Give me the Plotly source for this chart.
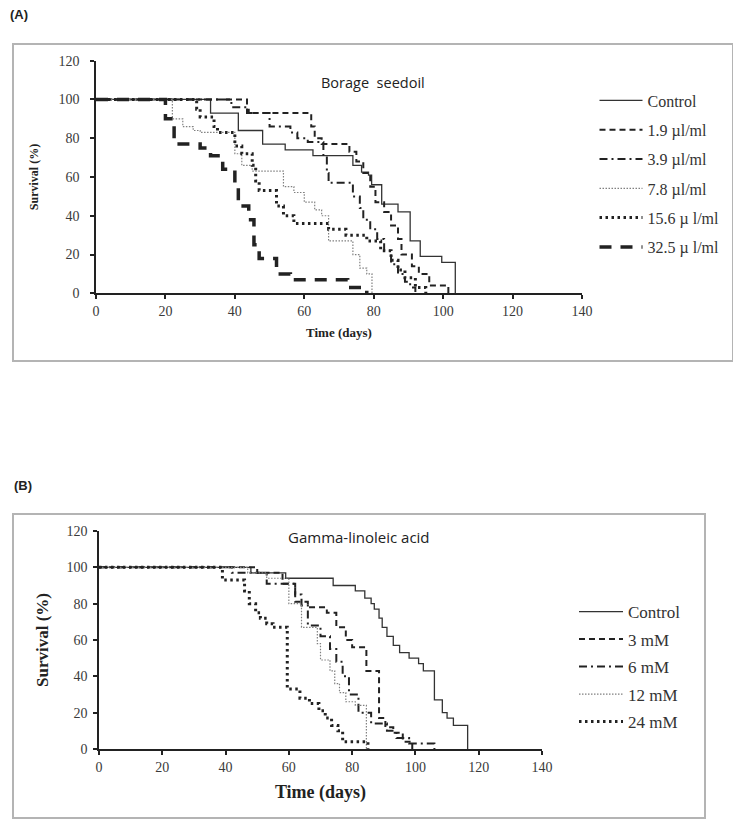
import plotly.graph_objects as go

# page is drawn with the browser's default 8px body margin, so the figure is
# sized to the remaining visible area and positions are measured from it
OFF = 8
W, H = 741 - OFF, 824 - OFF

# ---------------- Panel A: Borage seed oil ----------------
a_names = ["Control", "1.9 µl/ml", "3.9 µl/ml", "7.8 µl/ml", "15.6 µ l/ml", "32.5 µ l/ml"]
a_ctrl_t = [0, 33, 41, 48, 54.5, 62.5, 74, 76.5, 78.5, 79.4, 82.3, 87, 90.5, 93.4, 99.6, 103.5]
a_ctrl_s = [100, 93, 84, 77, 74, 71, 66, 62.5, 61, 56, 46, 42, 27, 19, 16, 0]
a_19_t = [0, 43.5, 62, 63, 65, 73, 75, 77, 79, 80.5, 83, 85, 87, 88, 91, 93, 96, 101.5]
a_19_s = [100, 93, 86, 80, 77, 73, 68, 62, 55, 47, 42, 35, 28, 20, 14, 10, 4, 0]
a_39_t = [0, 39, 44, 50, 56, 58, 61, 65.5, 66.5, 67, 74, 76, 77, 79, 81, 83, 85, 87, 89, 90.5, 92]
a_39_s = [100, 96, 93, 86, 83, 80, 78, 70, 62, 57, 50, 44, 38, 33, 28, 22, 15, 10, 6, 3, 0]
a_78_t = [0, 22, 25, 28, 30, 40, 42, 45, 54, 57, 60, 63, 65, 67, 74, 76, 78, 79.5]
a_78_s = [100, 90, 86, 84, 83, 72, 66, 63, 55, 52, 47, 43, 40, 27, 20, 13, 10, 0]
a_156_t = [0, 29, 30, 34, 35, 40, 42, 45, 46, 47, 52, 54, 57, 67, 72, 78, 82, 85, 87, 89, 92, 95]
a_156_s = [100, 95, 91, 86, 83, 76, 72, 66, 58, 53, 45, 40, 36, 33, 30, 27, 22, 17, 12, 8, 3, 0]
a_325_t = [0, 20, 22.5, 30, 33, 36.5, 40, 41, 44, 45.5, 47, 52, 56, 72.5, 78]
a_325_s = [100, 90, 77, 75, 71, 64, 55, 45, 38, 25, 18, 10, 7, 3, 0]

# ---------------- Panel B: Gamma-linoleic acid ----------------
b_names = ["Control", "3 mM", "6 mM", "12 mM", "24 mM"]
b_ctrl_t = [0, 48, 59, 74, 81, 84, 86, 87, 88.5, 89.5, 91, 93, 95, 98, 101, 102.5, 106, 108.5, 110, 112, 116.5]
b_ctrl_s = [100, 97, 94, 90, 87, 83, 80, 77, 72, 67, 62, 57, 53, 50, 47, 43, 27, 20, 17, 13, 0]
b_3_t = [0, 50, 58, 62, 66, 72, 75, 78, 80, 84.5, 88.5, 90.5, 93, 96, 99]
b_3_s = [100, 97, 91, 81, 78, 75, 67, 60, 56, 43, 17, 12, 9, 4, 0]
b_6_t = [0, 42, 53, 62, 64, 66, 70, 73, 75, 77, 79, 82, 86, 91, 94, 98, 106]
b_6_s = [100, 97, 91, 85, 79, 68, 62, 55, 48, 40, 30, 20, 14, 10, 6, 3, 0]
b_12_t = [0, 47, 53, 60, 64, 69, 70, 73, 74.5, 76, 78, 81, 84.5]
b_12_s = [100, 97, 94, 80, 67, 58, 49, 43, 36, 31, 26, 24, 0]
b_24_t = [0, 39, 46, 47.5, 49.5, 51, 53, 55, 59.5, 63.5, 66.5, 69.5, 71.5, 73.5, 75.5, 77, 85]
b_24_s = [100, 93, 87, 80, 75, 72, 69, 67, 33, 28, 25, 21, 17, 13, 10, 4, 0]

x_ticks = [0, 20, 40, 60, 80, 100, 120, 140]
y_ticks = [0, 20, 40, 60, 80, 100, 120]

BLK = "#222222"
GRY = "#808080"
styles = [
    dict(color="#333333", width=1.3, dash="solid"),
    dict(color=BLK, width=2, dash="6px,4px"),
    dict(color=BLK, width=2, dash="8px,4px,2px,4px"),
    dict(color=GRY, width=1.2, dash="1.5px,1.5px"),
    dict(color=BLK, width=3, dash="2.5px,3.5px"),
    dict(color=BLK, width=3.5, dash="12px,9px"),
]

def px_x(p):
    return (p - OFF) / W

def px_y(p):
    return 1 - (p - OFF) / H

fig = go.Figure()

a_data = [(a_ctrl_t, a_ctrl_s), (a_19_t, a_19_s), (a_39_t, a_39_s),
          (a_78_t, a_78_s), (a_156_t, a_156_s), (a_325_t, a_325_s)]
for i, (name, (t, s)) in enumerate(zip(a_names, a_data)):
    fig.add_trace(go.Scatter(x=t, y=s, name=name, mode="lines", line=dict(shape="hv", **styles[i]),
                             xaxis="x", yaxis="y", legend="legend", legendgroup="a%d" % i))

b_data = [(b_ctrl_t, b_ctrl_s), (b_3_t, b_3_s), (b_6_t, b_6_s), (b_12_t, b_12_s), (b_24_t, b_24_s)]
for i, (name, (t, s)) in enumerate(zip(b_names, b_data)):
    fig.add_trace(go.Scatter(x=t, y=s, name=name, mode="lines", line=dict(shape="hv", **styles[i]),
                             xaxis="x2", yaxis="y2", legend="legend2", legendgroup="b%d" % i))

serif = "Liberation Serif"
axis_common = dict(showline=True, linecolor=BLK, linewidth=1.5, ticks="outside", ticklen=4,
                   tickcolor=BLK, tickwidth=1.5, showgrid=False, zeroline=False, automargin=False,
                   tickfont=dict(family=serif, size=14, color="#3a3a3a"))

fig.update_layout(
    width=W, height=H, margin=dict(l=0, r=0, t=0, b=0, autoexpand=False),
    paper_bgcolor="white", plot_bgcolor="white",
    xaxis=dict(domain=[px_x(96), px_x(582)], range=[0, 140], tickvals=x_ticks, anchor="y",
               title=dict(text="<b>Time (days)</b>", font=dict(family=serif, size=13, color=BLK), standoff=10),
               **axis_common),
    yaxis=dict(domain=[px_y(293.3), px_y(60.7)], range=[0, 120], tickvals=y_ticks, anchor="x",
               ticklabelstandoff=8,
               title=dict(text="<b>Survival (%)</b>", font=dict(family=serif, size=12, color=BLK), standoff=17),
               **axis_common),
    xaxis2=dict(domain=[px_x(99), px_x(542)], range=[0, 140], tickvals=x_ticks, anchor="y2",
                title=dict(text="<b>Time (days)</b>", font=dict(family=serif, size=18, color=BLK), standoff=12),
                **axis_common),
    yaxis2=dict(domain=[px_y(749), px_y(531)], range=[0, 120], tickvals=y_ticks, anchor="x2",
                ticklabelstandoff=3,
                title=dict(text="<b>Survival (%)</b>", font=dict(family=serif, size=17, color=BLK), standoff=14),
                **axis_common),
    legend=dict(x=px_x(594.5), y=px_y(83.5), xanchor="left", yanchor="top", bgcolor="rgba(0,0,0,0)",
                font=dict(family=serif, size=16, color="#333333"), tracegroupgap=5.5, itemwidth=43),
    legend2=dict(x=px_x(574), y=px_y(594), xanchor="left", yanchor="top", bgcolor="rgba(0,0,0,0)",
                 font=dict(family=serif, size=17, color="#333333"), tracegroupgap=2.4, itemwidth=44),
    showlegend=True,
)

fig.add_shape(type="rect", xref="paper", yref="paper", x0=px_x(13), x1=px_x(733), y0=px_y(361), y1=px_y(44),
              line=dict(color="#b4b4b4", width=2), layer="below")
fig.add_shape(type="rect", xref="paper", yref="paper", x0=px_x(13), x1=px_x(705), y0=px_y(818), y1=px_y(514),
              line=dict(color="#b4b4b4", width=2), layer="below")

fig.add_annotation(text="<b>(A)</b>", x=px_x(8), y=px_y(15), xref="paper", yref="paper", xanchor="left",
                   yanchor="middle", showarrow=False, font=dict(family="Liberation Sans", size=13, color=BLK))
fig.add_annotation(text="<b>(B)</b>", x=px_x(12), y=px_y(485), xref="paper", yref="paper", xanchor="left",
                   yanchor="middle", showarrow=False, font=dict(family="Liberation Sans", size=13, color=BLK))
fig.add_annotation(text="Borage  seedoil", x=px_x(373), y=px_y(71), xref="paper", yref="paper",
                   showarrow=False, font=dict(family="Open Sans", size=14.5, color=BLK))
fig.add_annotation(text="Gamma-linoleic acid", x=px_x(359), y=px_y(537), xref="paper", yref="paper",
                   showarrow=False, font=dict(family="Open Sans", size=15, color=BLK))

fig.write_html("out.html")
